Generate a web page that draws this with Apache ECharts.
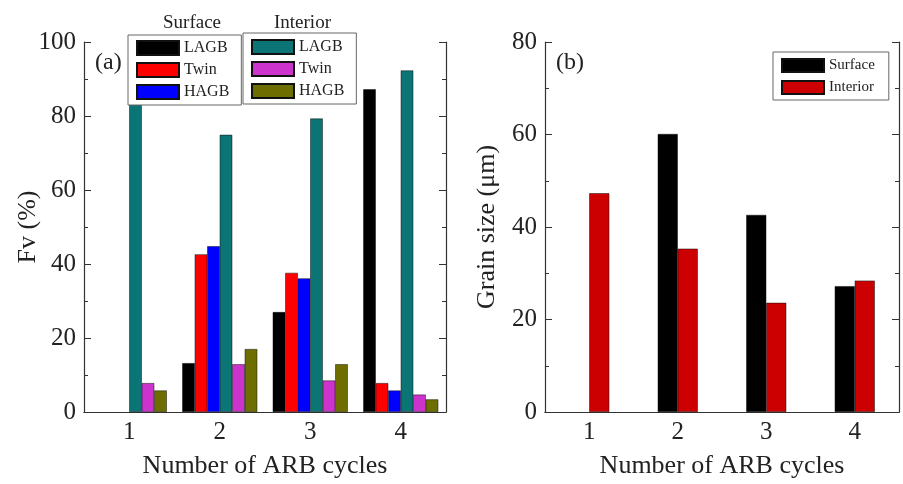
<!DOCTYPE html>
<html>
<head>
<meta charset="utf-8">
<title>ARB cycles</title>
<script src="https://cdn.jsdelivr.net/npm/echarts@6/dist/echarts.min.js"></script>
</head>
<body style="margin:0">
<div id="main" style="width:903px;height:484px;"></div>
<script type="text/javascript">
// x categories
var cycles = ['1', '2', '3', '4'];
// (a) Fv (%) - surface
var surfLAGB = [null, 13.2, 27.0, 87.2];
var surfTwin = [null, 42.6, 37.6, 7.8];
var surfHAGB = [null, 44.8, 36.1, 5.8];
// (a) Fv (%) - interior
var intLAGB = [87.2, 74.9, 79.3, 92.3];
var intTwin = [7.8, 12.9, 8.5, 4.7];
var intHAGB = [5.8, 17.0, 12.9, 3.4];
// (b) grain size (um)
var grainSurface = [null, 60.1, 42.6, 27.2];
var grainInterior = [47.3, 35.3, 23.6, 28.4];

var serif = "'Liberation Serif', 'DejaVu Serif', serif";
var axisCol = '#333';
var textCol = '#222';

function bottomAxis(g) {
    return {
        type: 'category', gridIndex: g, data: cycles,
        name: 'Number of ARB cycles', nameLocation: 'middle', nameGap: 41,
        nameTextStyle: {fontSize: 26, fontFamily: serif, color: textCol},
        axisLine: {lineStyle: {color: axisCol, width: 1.2}},
        axisTick: {inside: true, length: 4, lineStyle: {color: axisCol}},
        axisLabel: {fontSize: 25, fontFamily: serif, color: textCol, margin: 8},
        splitLine: {show: false}
    };
}
function topAxis(g) {
    return {
        type: 'category', gridIndex: g, data: cycles, position: 'top',
        axisLine: {lineStyle: {color: axisCol, width: 1.2}},
        axisTick: {inside: true, length: 5, alignWithLabel: true, lineStyle: {color: axisCol}},
        axisLabel: {show: false},
        splitLine: {show: false}
    };
}
function leftAxis(g, max, title, gap) {
    return {
        type: 'value', gridIndex: g, min: 0, max: max, interval: 20,
        name: title, nameLocation: 'middle', nameGap: gap, nameMoveOverlap: false,
        nameTextStyle: {fontSize: 26, fontFamily: serif, color: textCol},
        axisLine: {show: true, lineStyle: {color: axisCol, width: 1.2}},
        axisTick: {show: true, inside: true, length: 7, lineStyle: {color: axisCol}},
        minorTick: {show: true, splitNumber: 2, length: 4, lineStyle: {color: axisCol}},
        axisLabel: {fontSize: 25, fontFamily: serif, color: textCol, margin: 8},
        splitLine: {show: false}
    };
}
function rightAxis(g, max) {
    return {
        type: 'value', gridIndex: g, min: 0, max: max, interval: 20, position: 'right',
        axisLine: {show: true, lineStyle: {color: axisCol, width: 1.2}},
        axisTick: {show: true, inside: true, length: 7, lineStyle: {color: axisCol}},
        minorTick: {show: true, splitNumber: 2, length: 4, lineStyle: {color: axisCol}},
        axisLabel: {show: false},
        splitLine: {show: false}
    };
}
function bar(name, data, color, xi, yi, w) {
    return {
        name: name, type: 'bar', data: data, xAxisIndex: xi, yAxisIndex: yi,
        barWidth: w, barGap: '0%',
        itemStyle: {color: color, borderColor: '#111', borderWidth: 0.5},
        emphasis: {disabled: true}
    };
}
var legendText = {fontSize: 16, fontFamily: serif, color: textCol};
function stripPrefix(n) { return n.split(' ')[1]; }

var myChart = echarts.init(document.getElementById('main'));
var option = {
    animation: false,
    backgroundColor: '#fff',
    grid: [
        {left: 84, right: 457, top: 42, bottom: 68},
        {left: 545, right: 4, top: 42, bottom: 68}
    ],
    xAxis: [bottomAxis(0), topAxis(0), bottomAxis(1), topAxis(1)],
    yAxis: [
        leftAxis(0, 100, 'Fv (%)', 43), rightAxis(0, 100),
        leftAxis(1, 80, 'Grain size (μm)', 45), rightAxis(1, 80)
    ],
    legend: [
        {
            data: ['Surface LAGB', 'Surface Twin', 'Surface HAGB'],
            left: 128, top: 35, orient: 'vertical',
            itemWidth: 42, itemHeight: 14, itemGap: 6, padding: [5, 12, 5, 8],
            borderColor: '#666', borderWidth: 1, backgroundColor: '#fff',
            formatter: stripPrefix, textStyle: legendText, icon: 'rect'
        },
        {
            data: ['Interior LAGB', 'Interior Twin', 'Interior HAGB'],
            left: 243, top: 33, orient: 'vertical',
            itemWidth: 42, itemHeight: 14, itemGap: 6, padding: [6, 12, 5, 8],
            borderColor: '#666', borderWidth: 1, backgroundColor: '#fff',
            formatter: stripPrefix, textStyle: legendText, icon: 'rect'
        },
        {
            data: ['Surface', 'Interior'],
            left: 773, top: 52, orient: 'vertical',
            itemWidth: 42, itemHeight: 13, itemGap: 7, padding: [6, 14, 5, 8],
            borderColor: '#666', borderWidth: 1, backgroundColor: '#fff',
            textStyle: {fontSize: 15, fontFamily: serif, color: textCol}, icon: 'rect'
        }
    ],
    graphic: [
        {type: 'text', left: 95, top: 51, z: 10,
            style: {text: '(a)', fontSize: 24, fontFamily: serif, fill: textCol}},
        {type: 'text', left: 556, top: 51, z: 10,
            style: {text: '(b)', fontSize: 24, fontFamily: serif, fill: textCol}},
        {type: 'text', left: 163, top: 14, z: 10,
            style: {text: 'Surface', fontSize: 19, fontFamily: serif, fill: textCol}},
        {type: 'text', left: 274, top: 14, z: 10,
            style: {text: 'Interior', fontSize: 19, fontFamily: serif, fill: textCol}}
    ],
    series: [
        bar('Surface LAGB', surfLAGB, '#000000', 0, 0, 12.5),
        bar('Surface Twin', surfTwin, '#ff0000', 0, 0, 12.5),
        bar('Surface HAGB', surfHAGB, '#0000ff', 0, 0, 12.5),
        bar('Interior LAGB', intLAGB, '#0b7474', 0, 0, 12.5),
        bar('Interior Twin', intTwin, '#cc33cc', 0, 0, 12.5),
        bar('Interior HAGB', intHAGB, '#6e6e00', 0, 0, 12.5),
        bar('Surface', grainSurface, '#000000', 2, 2, 20),
        bar('Interior', grainInterior, '#cc0000', 2, 2, 20)
    ]
};
myChart.setOption(option);
</script>
</body>
</html>
